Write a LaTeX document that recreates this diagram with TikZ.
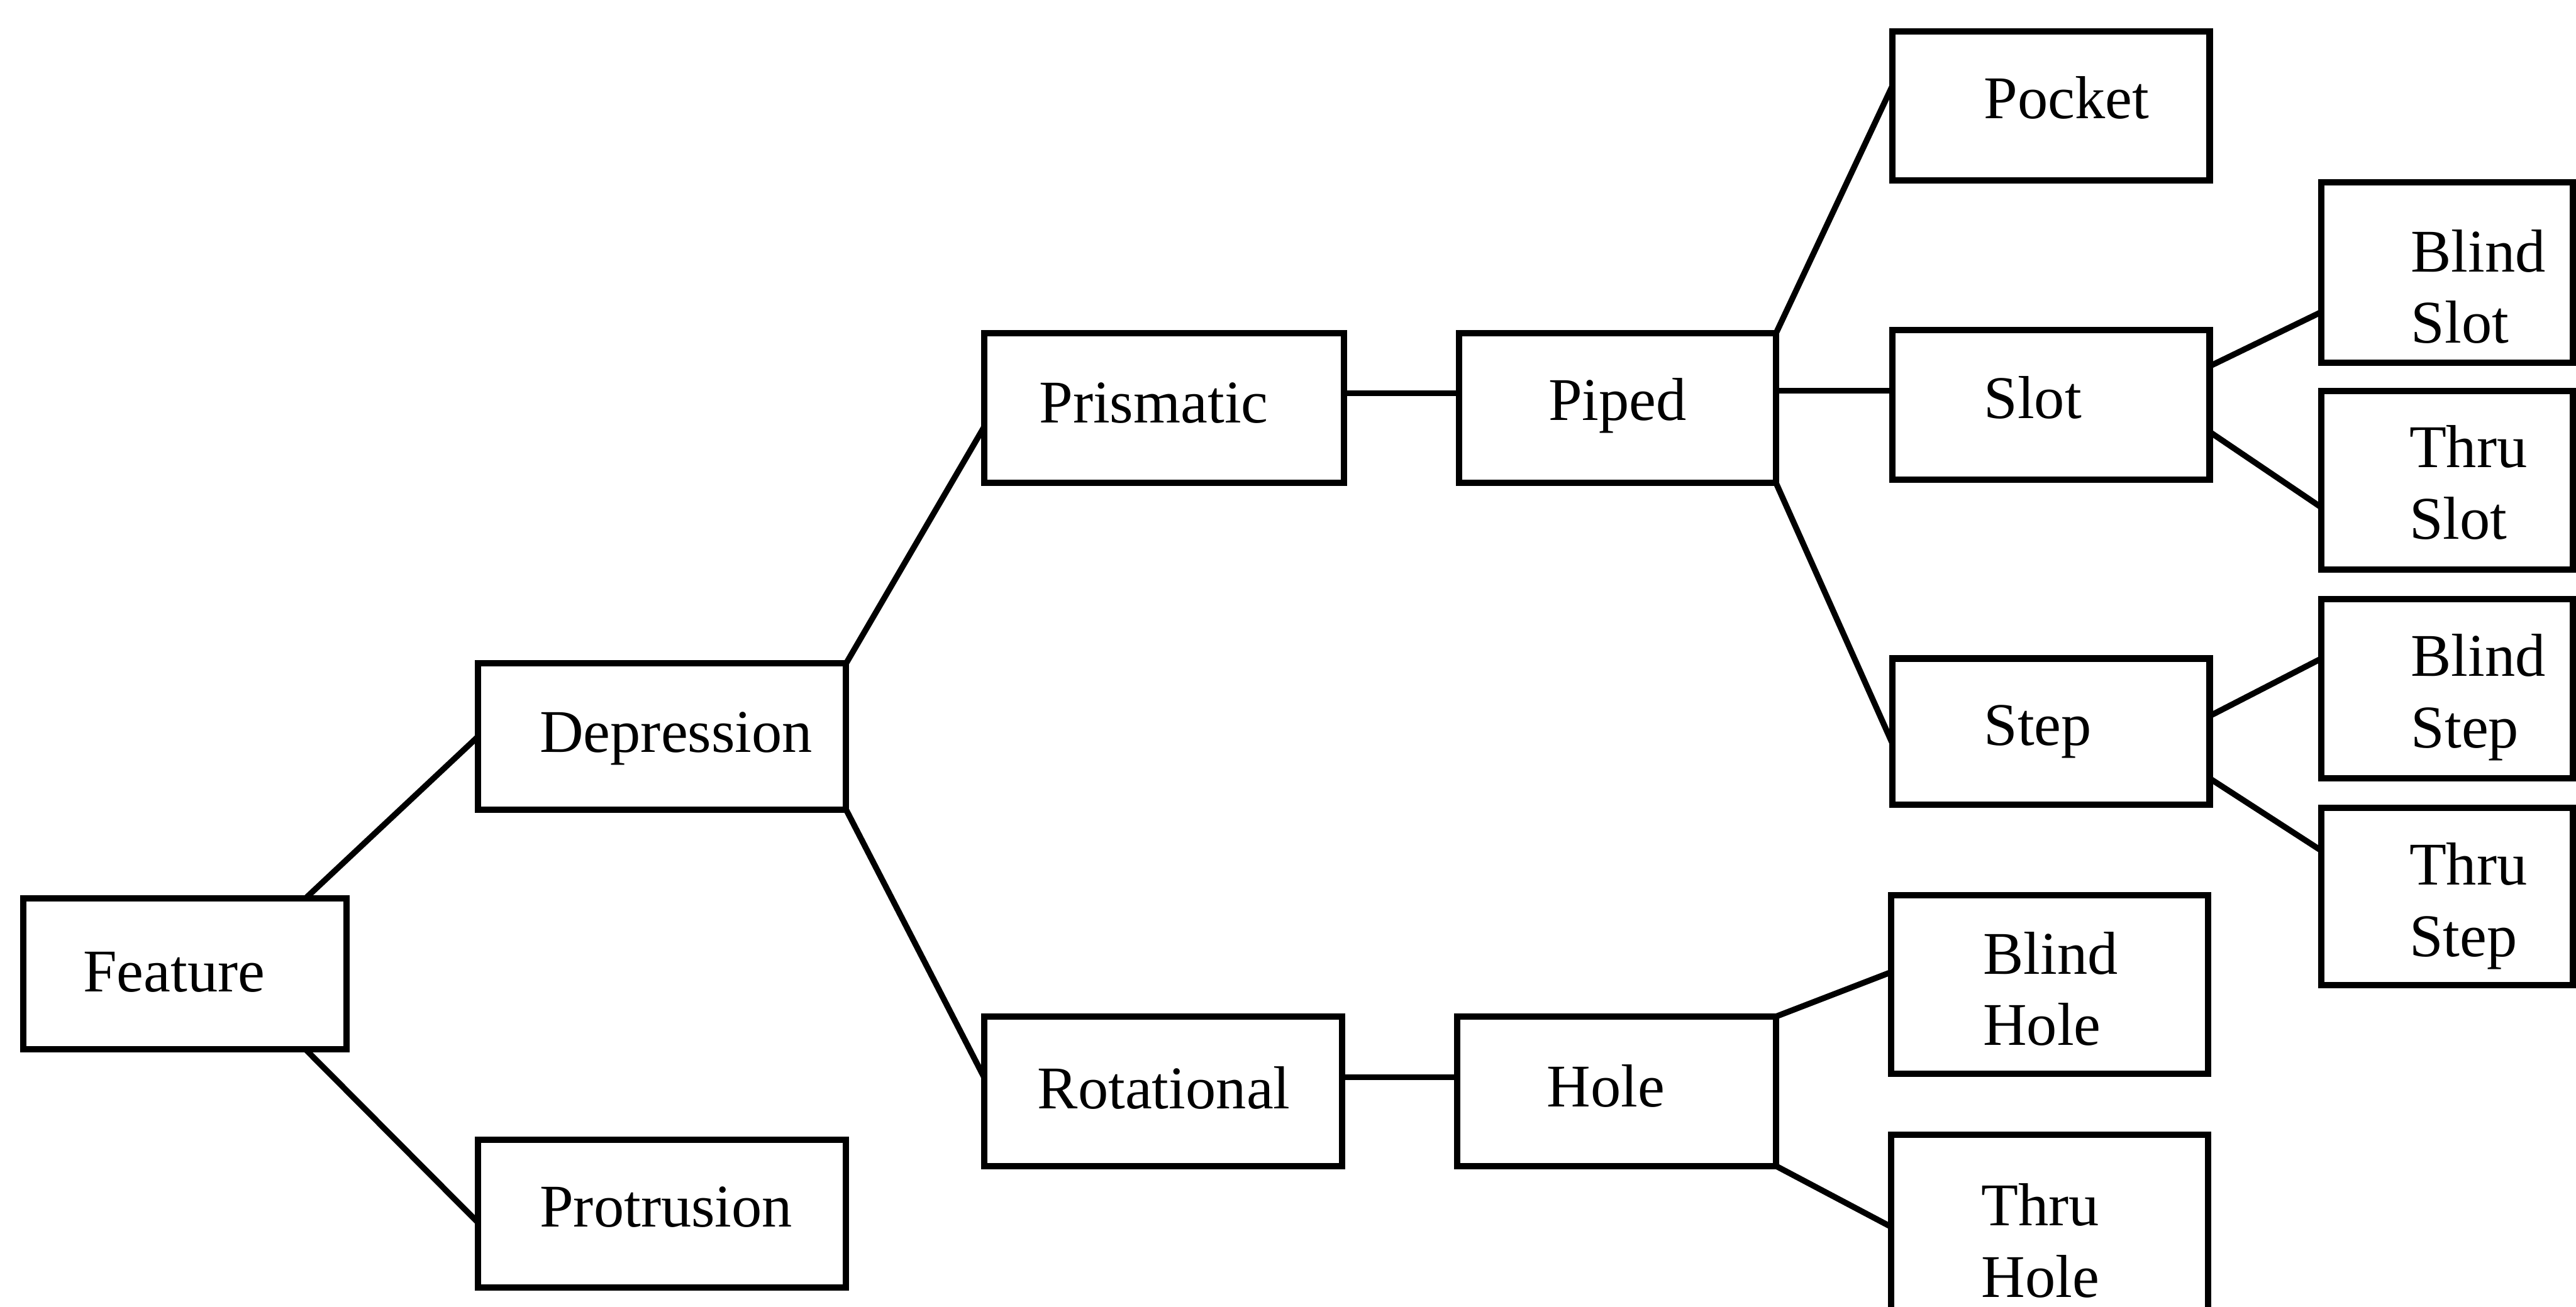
\documentclass[tikz,border=0pt]{standalone}
\usepackage{fontspec}
\setmainfont{Liberation Serif}
\usetikzlibrary{calc,fit}
\begin{document}
\begin{tikzpicture}[x=0.012755cm, y=-0.012755cm,
  box/.style={draw=black, line width=1.4pt, inner sep=0pt, outer sep=0pt},
  link/.style={draw=black, line width=1.3pt},
  txt/.style={inner sep=0pt, anchor=base west, align=left,
              font=\fontsize{13.4}{15.8}\selectfont}]

\useasboundingbox (0,0) rectangle (1568,795.5);
\clip (0,0) rectangle (1568,795.5);

% ---- boxes ----
\node[box, fit={(14,547)(211,639)}]    (feature)    {};
\node[box, fit={(291,404)(515,493)}]   (depression) {};
\node[box, fit={(291,694)(515,784)}]   (protrusion) {};
\node[box, fit={(599,203)(818,294)}]   (prismatic)  {};
\node[box, fit={(599,619)(817,710)}]   (rotational) {};
\node[box, fit={(888,203)(1081,294)}]  (piped)      {};
\node[box, fit={(887,619)(1081,710)}]  (hole)       {};
\node[box, fit={(1152,19)(1345,110)}]  (pocket)     {};
\node[box, fit={(1152,201)(1345,292)}] (slot)       {};
\node[box, fit={(1152,401)(1345,490)}] (step)       {};
\node[box, fit={(1151,545)(1344,654)}] (blindhole)  {};
\node[box, fit={(1151,691)(1344,840)}] (thruhole)   {};
\node[box, fit={(1413,111)(1566,221)}] (blindslot)  {};
\node[box, fit={(1413,238)(1566,347)}] (thruslot)   {};
\node[box, fit={(1413,365)(1566,474)}] (blindstep)  {};
\node[box, fit={(1413,492)(1566,600)}] (thrustep)   {};

% ---- labels (two-line labels are placed by the baseline of their last line) ----
\node[txt] (feature-t)    at (50,604)      {Feature};
\node[txt] (depression-t) at (328,458)     {Depression};
\node[txt] (protrusion-t) at (328,747)     {Protrusion};
\node[txt] (prismatic-t)  at (632,257.6)   {Prismatic};
\node[txt] (rotational-t) at (631,675)     {Rotational};
\node[txt] (piped-t)      at (942,256)     {Piped};
\node[txt] (hole-t)       at (941,674)     {Hole};
\node[txt] (pocket-t)     at (1207,72.3)   {Pocket};
\node[txt] (slot-t)       at (1207,254.8)  {Slot};
\node[txt] (step-t)       at (1207,454)    {Step};
\node[txt] (blindhole-t)  at (1206.5,636.6) {Blind\\Hole};
\node[txt] (thruhole-t)   at (1205.5,790)  {Thru\\Hole};
\node[txt] (blindslot-t)  at (1467,209)    {Blind\\Slot};
\node[txt] (thruslot-t)   at (1466,328.3)  {Thru\\Slot};
\node[txt] (blindstep-t)  at (1467,455.3)  {Blind\\Step};
\node[txt] (thrustep-t)   at (1466,582.3)  {Thru\\Step};

% ---- connectors ----
\draw[link] ($(feature.north west)+(172,0)$) -- (depression.west);
\draw[link] ($(feature.south west)+(172,0)$) -- ($(protrusion.west)+(0,5.5)$);
\draw[link] (depression.north east) -- ($(prismatic.west)+(0,11.5)$);
\draw[link] (depression.south east) -- ($(rotational.west)+(0,-8.5)$);

\coordinate (pp) at ($(prismatic.east)+(0,-9)$);
\draw[link] (pp) -- (pp -| piped.west);
\coordinate (ps) at ($(piped.east)+(0,-10.5)$);
\draw[link] (ps) -- (ps -| slot.west);
\draw[link] (piped.north east) -- ($(pocket.west)+(0,-12.5)$);
\draw[link] (piped.south east) -- ($(step.west)+(0,7.5)$);

\draw[link] ($(slot.east)+(0,-23.5)$) -- ($(blindslot.west)+(0,24)$);
\draw[link] ($(slot.east)+(0,16.5)$)  -- ($(thruslot.west)+(0,16.5)$);
\draw[link] ($(step.east)+(0,-9.5)$)  -- ($(blindstep.west)+(0,-18.5)$);
\draw[link] ($(step.east)+(0,28.5)$)  -- ($(thrustep.west)+(0,-28)$);

\coordinate (rh) at ($(rotational.east)+(0,-8.5)$);
\draw[link] (rh) -- (rh -| hole.west);
\draw[link] (hole.north east) -- ($(blindhole.west)+(0,-7.5)$);
\draw[link] (hole.south east) -- ($(thruhole.north west)+(0,56)$);

\end{tikzpicture}
\end{document}
